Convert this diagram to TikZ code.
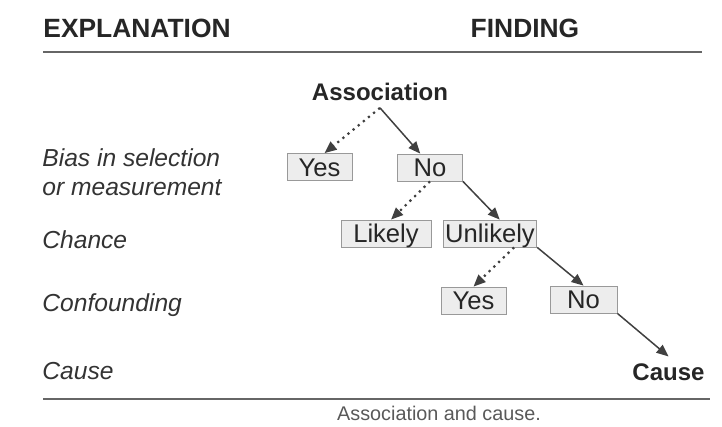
\documentclass[tikz,border=0pt]{standalone}
\usepackage{fontspec}
\setmainfont{Liberation Sans}
\usetikzlibrary{arrows.meta}
\begin{document}
\begin{tikzpicture}[
      x=0.5pt, y=-0.5pt,
      head/.style={font=\fontsize{13.2}{15}\selectfont\bfseries, text=black!85, inner sep=0pt},
      expl/.style={font=\fontsize{12.3}{14.5}\selectfont\itshape, text=black!80,
                   anchor=west, align=left, inner sep=0pt},
      answer/.style={draw=black!40, fill=black!7, font=\fontsize{12.8}{14}\selectfont,
                     text=black!85, minimum height=13.5pt, text height=9.5pt, text depth=0.4pt,
                     inner xsep=1pt, inner ysep=1.5pt},
      outcome/.style={font=\fontsize{12}{14}\selectfont\bfseries, text=black!85},
      rule/.style={draw=black!60, line width=0.8pt},
      solidarrow/.style={draw=black!75, line width=0.75pt, -{Triangle[length=6pt, width=5pt]}},
      dotarrow/.style={draw=black!75, line width=1.1pt, dash pattern=on 1.1pt off 2.2pt,
                       -{Triangle[length=6pt, width=5pt]}},
    ]
    \useasboundingbox (0,0) rectangle (722,427);

    % --- header ---
    \node[head, anchor=west] (hexpl) at (43,28.5) {EXPLANATION};
    \node[head] (hfind) at (525,28.5) {FINDING};
    \draw[rule] (43,52) -- (702,52);

    % --- explanations (left column) ---
    \node[expl] (ebias) at (42,172.5) {Bias in selection\\or measurement};
    \foreach \txt/\y [count=\i] in {Chance/240, Confounding/305, Cause/371} {
      \node[expl] (e\i) at (42,\y) {\txt};
    }

    % --- findings (tree) ---
    \node[outcome] (assoc) at (380,92) {Association};
    \node[answer, minimum width=32.5pt] (yes1) at (319.5,167) {Yes};
    \node[answer, minimum width=32.5pt] (no1) at (430,167.5) {No};
    \node[answer, minimum width=45pt] (likely) at (386,233.5) {Likely};
    \node[answer, minimum width=46pt] (unlikely) at (490,233.5) {Unlikely};
    \node[answer, minimum width=32.5pt] (yes2) at (473.5,300.5) {Yes};
    \node[answer, minimum width=33.5pt] (no2) at (583.5,299.5) {No};
    \node[outcome] (cause) at (668.5,372) {Cause};

    \draw[dotarrow] (assoc.south) -- (yes1.70);
    \draw[solidarrow] (assoc.south) -- (no1.125);
    \draw[dotarrow] (no1.south) -- (likely.70);
    \draw[solidarrow] (no1.south east) -- (unlikely.55);
    \draw[dotarrow] (unlikely.-30) -- (yes2.north);
    \draw[solidarrow] (unlikely.south east) -- (no2.north);
    \draw[solidarrow] (no2.south east) -- (cause.north);

    % --- footer ---
    \draw[rule] (43,399) -- (710,399);
    \node[font=\fontsize{9.9}{12}\selectfont, text=black!65] (caption) at (439,413)
      {Association and cause.};
  \end{tikzpicture}
\end{document}
